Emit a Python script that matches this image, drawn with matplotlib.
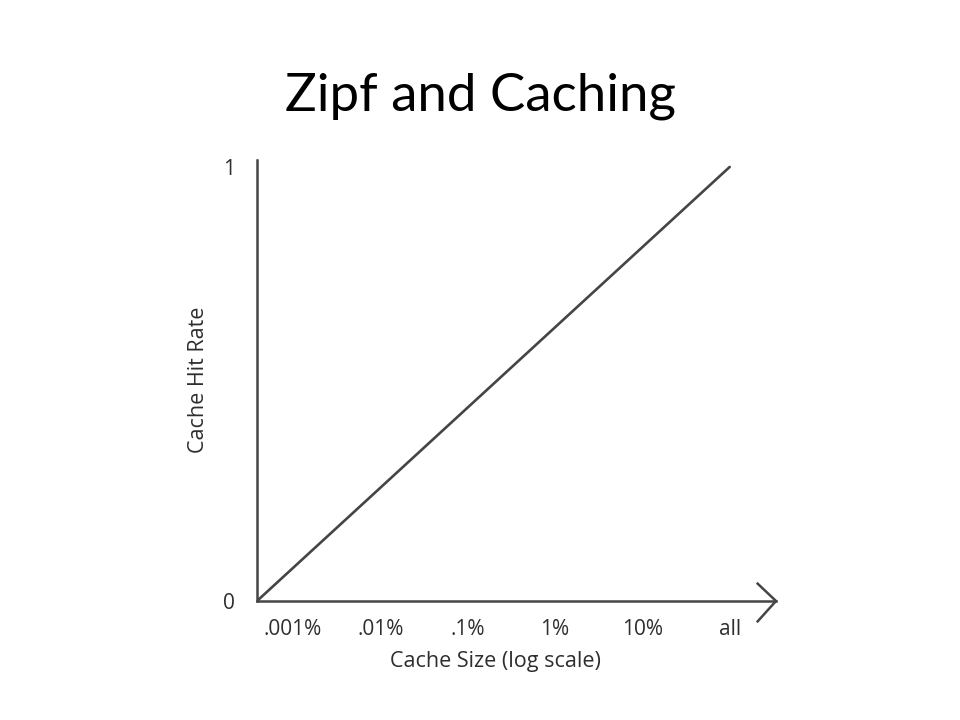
import matplotlib
matplotlib.use("Agg")
import matplotlib.pyplot as plt

# Data
tick_positions = [-5, -4, -3, -2, -1, 0]          # log10 of cache fraction
tick_labels = [".001%", ".01%", ".1%", "1%", "10%", "all"]
line_x = [-5.41, 0.0]                                # log-scale cache size
line_y = [0.0, 1.0]                                  # cache hit rate
y_ticks = [0, 1]
y_tick_labels = ["0", "1"]

GRAY = "#454545"
TXT = "#2e2e2e"
FONT = ["Open Sans", "DejaVu Sans"]

fig = plt.figure(figsize=(9.6, 7.2), dpi=100)
fig.text(0.5, 1 - 110/720, "Zipf and Caching", ha="center", va="baseline",
         fontsize=38, family=["Lato", "DejaVu Sans"], color="black")

ax = fig.add_axes([257/960, (720-601)/720, (776-257)/960, 441/720])
ax.plot(line_x, line_y, color=GRAY, lw=1.9, solid_capstyle="round")
ax.set_xlim(-5.41, 0.53)
ax.set_ylim(0, 1.016)

for s in ["top", "right"]:
    ax.spines[s].set_visible(False)
for s in ["left", "bottom"]:
    ax.spines[s].set_color(GRAY)
    ax.spines[s].set_linewidth(1.8)

# arrow chevron at the end of x-axis
ax.plot([0.32, 0.53, 0.32], [0.04, 0.0, -0.047], color=GRAY, lw=1.8,
        clip_on=False, solid_joinstyle="miter")

ax.set_xticks(tick_positions)
ax.set_xticklabels(tick_labels, family=FONT, fontsize=15, color=TXT)
ax.set_yticks(y_ticks)
ax.set_yticklabels(y_tick_labels, family=FONT, fontsize=15, color=TXT)
ax.tick_params(axis="both", length=0)
ax.tick_params(axis="x", pad=13)
ax.tick_params(axis="y", pad=16)

ax.set_xlabel("Cache Size (log scale)", family=FONT, fontsize=15.5, color=TXT)
ax.set_ylabel("Cache Hit Rate", family=FONT, fontsize=15.5, color=TXT)
ax.xaxis.set_label_coords((495-257)/(776-257), -(662-601)/441)
ax.xaxis.label.set_va("center")
ax.yaxis.set_label_coords(-(257-198)/(776-257), (601-380)/441)
ax.yaxis.label.set_va("center")

fig.savefig("out.png", dpi=100)
